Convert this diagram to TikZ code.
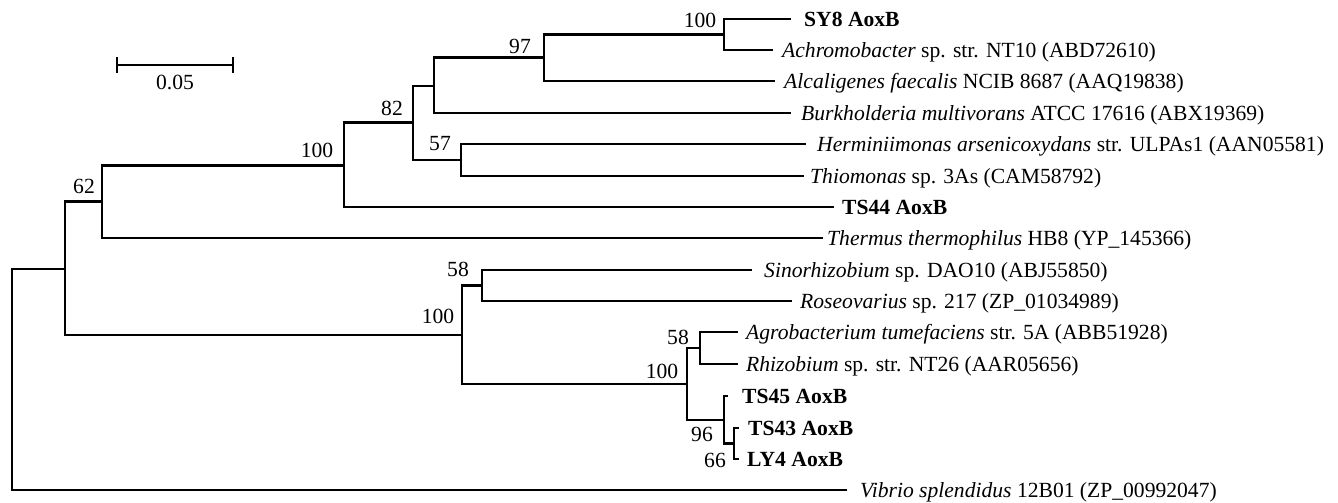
\documentclass[tikz,border=0pt]{standalone}
\usepackage{fontspec}
\setmainfont{Liberation Serif}
\newcommand{\fsz}{\fontsize{21.6}{26}\selectfont}
\begin{document}
\begin{tikzpicture}[x=1pt,y=-1pt,
  br/.style={line width=2.6pt, line join=miter},
  leaf/.style={anchor=base west, inner sep=0pt, font=\fsz},
  bs/.style={anchor=base, inner sep=0pt, font=\fsz}]
\fill[white] (0,0) rectangle (1338,503);
\useasboundingbox (0,0) rectangle (1338,503);
% internal nodes
\coordinate (root) at (12,379.5);
\coordinate (nR) at (65,269);
\coordinate (n62) at (102,201.5);
\coordinate (n100top) at (344,165.5);
\coordinate (n82) at (413,122.5);
\coordinate (nA) at (434,86);
\coordinate (n97) at (544,57.5);
\coordinate (nSY) at (724,34.5);
\coordinate (n57) at (461,160);
\coordinate (n100low) at (462,335);
\coordinate (n58a) at (482,285.5);
\coordinate (n100d) at (687,384);
\coordinate (n58b) at (700,348);
\coordinate (n96) at (724,420);
\coordinate (n66) at (734,443.5);
% leaf tips
\coordinate (tSY8) at (791,19);
\coordinate (tAch) at (773,50);
\coordinate (tAlc) at (775,81);
\coordinate (tBur) at (791,113);
\coordinate (tHer) at (806,144);
\coordinate (tThi) at (804,176);
\coordinate (tTS44) at (834,207);
\coordinate (tThe) at (823,238);
\coordinate (tSin) at (752,270);
\coordinate (tRos) at (792,301);
\coordinate (tAgr) at (738,332);
\coordinate (tRhi) at (738,364);
\coordinate (tTS45) at (728,396);
\coordinate (tTS43) at (739,428);
\coordinate (tLY4) at (739,459);
\coordinate (tVib) at (847,490);
% leaf labels
\node[leaf] (lSY8) at (804,26.5) {\textbf{SY8 AoxB}};
\node[leaf] (lAch) at (782,57.5) {\textit{Achromobacter} sp. str. NT10 (ABD72610)};
\node[leaf] (lAlc) at (784,88.5) {\textit{Alcaligenes faecalis} NCIB 8687 (AAQ19838)};
\node[leaf] (lBur) at (801,120.5) {\textit{Burkholderia multivorans} ATCC 17616 (ABX19369)};
\node[leaf] (lHer) at (817,151.5) {\textit{Herminiimonas arsenicoxydans} str. ULPAs1 (AAN05581)};
\node[leaf] (lThi) at (810,183.5) {\textit{Thiomonas} sp. 3As (CAM58792)};
\node[leaf] (lTS44) at (842,214.5) {\textbf{TS44 AoxB}};
\node[leaf] (lThe) at (827,245.5) {\textit{Thermus thermophilus} HB8 (YP\_145366)};
\node[leaf] (lSin) at (764,277.5) {\textit{Sinorhizobium} sp. DAO10 (ABJ55850)};
\node[leaf] (lRos) at (800,308.5) {\textit{Roseovarius} sp. 217 (ZP\_01034989)};
\node[leaf] (lAgr) at (746,339.5) {\textit{Agrobacterium tumefaciens} str. 5A (ABB51928)};
\node[leaf] (lRhi) at (746,371.5) {\textit{Rhizobium} sp. str. NT26 (AAR05656)};
\node[leaf] (lTS45) at (742,403.5) {\textbf{TS45 AoxB}};
\node[leaf] (lTS43) at (748,435.5) {\textbf{TS43 AoxB}};
\node[leaf] (lLY4) at (747,466.5) {\textbf{LY4 AoxB}};
\node[leaf] (lVib) at (860,497.5) {\textit{Vibrio splendidus} 12B01 (ZP\_00992047)};
% branches
\draw[br] (root) |- (nR);
\draw[br] (root) |- (tVib);
\draw[br] (nR) |- (n62);
\draw[br] (nR) |- (n100low);
\draw[br] (n62) |- (n100top);
\draw[br] (n62) |- (tThe);
\draw[br] (n100top) |- (n82);
\draw[br] (n100top) |- (tTS44);
\draw[br] (n82) |- (nA);
\draw[br] (n82) |- (n57);
\draw[br] (nA) |- (n97);
\draw[br] (nA) |- (tBur);
\draw[br] (n97) |- (nSY);
\draw[br] (n97) |- (tAlc);
\draw[br] (nSY) |- (tSY8);
\draw[br] (nSY) |- (tAch);
\draw[br] (n57) |- (tHer);
\draw[br] (n57) |- (tThi);
\draw[br] (n100low) |- (n58a);
\draw[br] (n100low) |- (n100d);
\draw[br] (n58a) |- (tSin);
\draw[br] (n58a) |- (tRos);
\draw[br] (n100d) |- (n58b);
\draw[br] (n100d) |- (n96);
\draw[br] (n58b) |- (tAgr);
\draw[br] (n58b) |- (tRhi);
\draw[br] (n96) |- (tTS45);
\draw[br] (n96) |- (n66);
\draw[br] (n66) |- (tTS43);
\draw[br] (n66) |- (tLY4);
% bootstrap values
\node[bs] (b1) at (700,27.5) {100};
\node[bs] (b2) at (520,53.5) {97};
\node[bs] (b3) at (392,115.5) {82};
\node[bs] (b4) at (440,150.5) {57};
\node[bs] (b5) at (317,157.5) {100};
\node[bs] (b6) at (84,193.5) {62};
\node[bs] (b7) at (458,276.5) {58};
\node[bs] (b8) at (438,323.5) {100};
\node[bs] (b9) at (678,344.5) {58};
\node[bs] (b10) at (662,378.5) {100};
\node[bs] (b11) at (702,441.5) {96};
\node[bs] (b12) at (715,467.5) {66};
% scale bar
\coordinate (sL) at (117,65);
\coordinate (sR) at (233,65);
\draw[br] (sL) -- (sR);
\draw[br] ([yshift=-8pt]sL) -- ([yshift=8pt]sL);
\draw[br] ([yshift=-8pt]sR) -- ([yshift=8pt]sR);
\node[bs] (sc) at (175,89) {0.05};
\end{tikzpicture}
\end{document}
